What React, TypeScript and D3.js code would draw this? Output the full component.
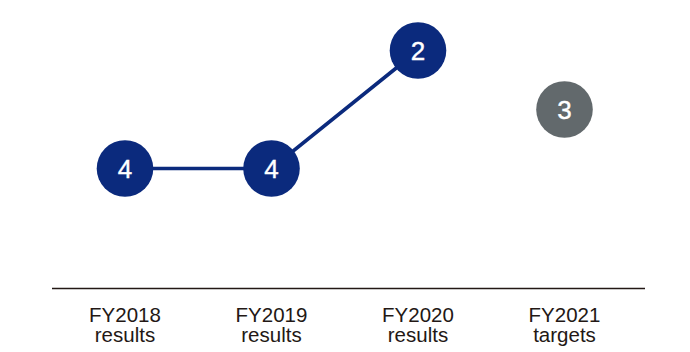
import React from "react";
import * as d3 from "d3";

const categories = ["FY2018", "FY2019", "FY2020", "FY2021"];
const subLabels = ["results", "results", "results", "targets"];
const values = [4, 4, 2, 3];
const isTarget = [false, false, false, true];

const W = 690;
const H = 352;
const NAVY = "#0b2a7d";
const GRAY = "#62696c";

export default function App() {
  const x = d3.scalePoint<string>().domain(categories).range([125, 564.5]);
  const y = d3.scaleLinear().domain([2, 4]).range([50.5, 168.5]);

  const actualIdx = values.map((_, i) => i).filter((i) => !isTarget[i]);
  const line = d3
    .line<number>()
    .x((i) => x(categories[i]) as number)
    .y((i) => y(values[i]));

  return (
    <svg
      width={W}
      height={H}
      style={{ position: "absolute", left: 0, top: 0 }}
      fontFamily="'Liberation Sans', Arial, sans-serif"
    >
      <line x1={52} x2={645} y1={288.5} y2={288.5} stroke="#231815" strokeWidth={1.3} />
      <path d={line(actualIdx) || ""} fill="none" stroke={NAVY} strokeWidth={3.6} />
      {values.map((v, i) => {
        const cx = x(categories[i]) as number;
        const cy = y(v);
        return (
          <g key={i}>
            <circle cx={cx} cy={cy} r={28.3} fill={isTarget[i] ? GRAY : NAVY} />
            <text
              x={cx}
              y={cy + 9.5}
              textAnchor="middle"
              fill="#fff"
              fontSize={26}
              stroke="#fff"
              strokeWidth={0.4}
            >
              {v}
            </text>
          </g>
        );
      })}
      {categories.map((c, i) => {
        const cx = x(c) as number;
        return (
          <g key={c} fill="#231815" fontSize={20.5} textAnchor="middle">
            <text x={cx} y={321.5}>{c}</text>
            <text x={cx} y={341.5}>{subLabels[i]}</text>
          </g>
        );
      })}
    </svg>
  );
}
